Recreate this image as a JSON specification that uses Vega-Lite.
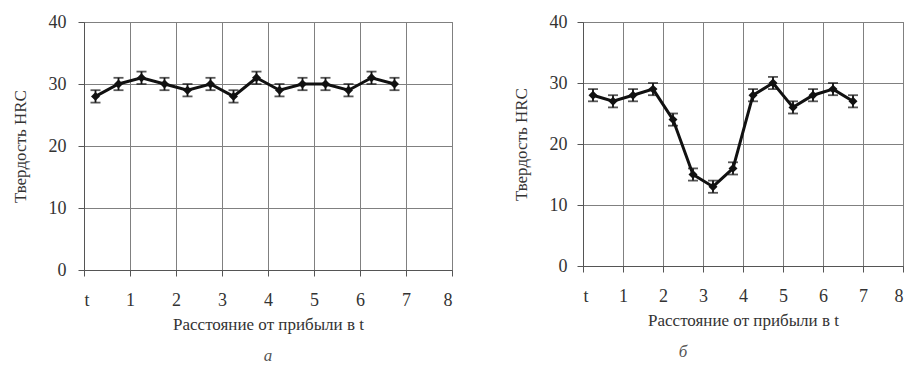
{
  "$schema": "https://vega.github.io/schema/vega-lite/v6.json",
  "background": "white",
  "padding": {"left": 10, "top": 12, "right": 0, "bottom": 2},
  "config": {
    "font": "Liberation Serif, Times New Roman, serif",
    "view": {"stroke": "#666", "strokeWidth": 1},
    "axis": {
      "labelFont": "Liberation Serif, Times New Roman, serif", "labelFontSize": 18, "labelColor": "#333",
      "titleFont": "Liberation Serif, Times New Roman, serif", "titleFontSize": 17, "titleFontWeight": "normal", "titleColor": "#333",
      "gridColor": "#808080", "gridOpacity": 1, "gridWidth": 1,
      "domainColor": "#555", "tickColor": "#555", "tickSize": 6
    },
    "concat": {"spacing": 58}
  },
  "datasets": {
    "a": [
      {"pos": 0.25, "hrc": 28, "err": 1}, {"pos": 0.75, "hrc": 30, "err": 1},
      {"pos": 1.25, "hrc": 31, "err": 1}, {"pos": 1.75, "hrc": 30, "err": 1},
      {"pos": 2.25, "hrc": 29, "err": 1}, {"pos": 2.75, "hrc": 30, "err": 1},
      {"pos": 3.25, "hrc": 28, "err": 1}, {"pos": 3.75, "hrc": 31, "err": 1},
      {"pos": 4.25, "hrc": 29, "err": 1}, {"pos": 4.75, "hrc": 30, "err": 1},
      {"pos": 5.25, "hrc": 30, "err": 1}, {"pos": 5.75, "hrc": 29, "err": 1},
      {"pos": 6.25, "hrc": 31, "err": 1}, {"pos": 6.75, "hrc": 30, "err": 1}
    ],
    "b": [
      {"pos": 0.25, "hrc": 28, "err": 1}, {"pos": 0.75, "hrc": 27, "err": 1},
      {"pos": 1.25, "hrc": 28, "err": 1}, {"pos": 1.75, "hrc": 29, "err": 1},
      {"pos": 2.25, "hrc": 24, "err": 1}, {"pos": 2.75, "hrc": 15, "err": 1},
      {"pos": 3.25, "hrc": 13, "err": 1}, {"pos": 3.75, "hrc": 16, "err": 1},
      {"pos": 4.25, "hrc": 28, "err": 1}, {"pos": 4.75, "hrc": 30, "err": 1},
      {"pos": 5.25, "hrc": 26, "err": 1}, {"pos": 5.75, "hrc": 28, "err": 1},
      {"pos": 6.25, "hrc": 29, "err": 1}, {"pos": 6.75, "hrc": 27, "err": 1}
    ]
  },
  "hconcat": [
    {
      "width": 368, "height": 248,
      "data": {"name": "a"},
      "title": {"text": "а", "orient": "bottom", "fontStyle": "italic", "fontSize": 17, "font": "Liberation Serif, Times New Roman, serif", "fontWeight": "normal", "color": "#555", "offset": 16},
      "encoding": {
        "x": {"field": "pos", "type": "quantitative", "scale": {"domain": [0, 8], "nice": false},
          "axis": {"values": [0, 1, 2, 3, 4, 5, 6, 7, 8], "labelExpr": "datum.value === 0 ? 't' : datum.label", "title": "Расстояние от прибыли в t", "labelPadding": 15, "titlePadding": 7, "grid": true}},
        "y": {"field": "hrc", "type": "quantitative", "scale": {"domain": [0, 40], "nice": false},
          "axis": {"values": [0, 10, 20, 30, 40], "title": "Твердость  HRC", "titlePadding": 19, "labelPadding": 12, "grid": true}}
      },
      "layer": [
        {"mark": {"type": "line", "color": "#111", "strokeWidth": 3}},
        {"mark": {"type": "errorbar", "ticks": {"size": 10, "color": "#111"}, "color": "#111", "thickness": 1.8}, "encoding": {"yError": {"field": "err"}}},
        {"mark": {"type": "point", "shape": "diamond", "filled": true, "color": "#111", "size": 80, "opacity": 1}}
      ]
    },
    {
      "width": 320, "height": 244,
      "data": {"name": "b"},
      "title": {"text": "б", "orient": "bottom", "fontStyle": "italic", "fontSize": 17, "font": "Liberation Serif, Times New Roman, serif", "fontWeight": "normal", "color": "#555", "offset": 16, "dx": -60},
      "encoding": {
        "x": {"field": "pos", "type": "quantitative", "scale": {"domain": [0, 8], "nice": false},
          "axis": {"values": [0, 1, 2, 3, 4, 5, 6, 7, 8], "labelExpr": "datum.value === 0 ? 't' : datum.label", "title": "Расстояние от прибыли в t", "labelPadding": 15, "titlePadding": 7, "grid": true}},
        "y": {"field": "hrc", "type": "quantitative", "scale": {"domain": [0, 40], "nice": false},
          "axis": {"values": [0, 10, 20, 30, 40], "title": "Твердость HRC", "titlePadding": 19, "labelPadding": 10, "grid": true}}
      },
      "layer": [
        {"mark": {"type": "line", "color": "#111", "strokeWidth": 3}},
        {"mark": {"type": "errorbar", "ticks": {"size": 10, "color": "#111"}, "color": "#111", "thickness": 1.8}, "encoding": {"yError": {"field": "err"}}},
        {"mark": {"type": "point", "shape": "diamond", "filled": true, "color": "#111", "size": 80, "opacity": 1}}
      ]
    }
  ]
}
